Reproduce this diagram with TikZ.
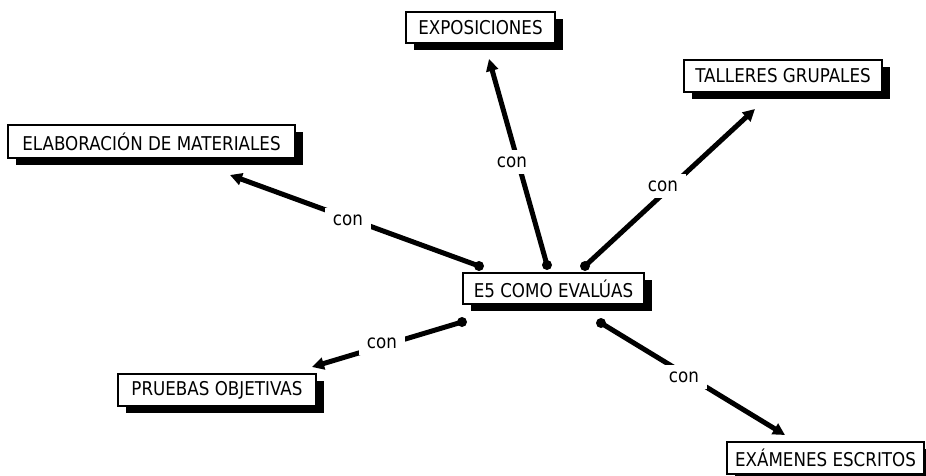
\documentclass[tikz,border=0pt]{standalone}
\usepackage{fontspec}
\setmainfont{DejaVu Sans}[FakeStretch=0.88]
\usetikzlibrary{arrows.meta,shadows}
\begin{document}
\begin{tikzpicture}[x=1pt,y=-1pt,
  concept/.style={draw=black, line width=1.3pt, fill=white, inner sep=0pt,
    font=\fontsize{19pt}{21pt}\selectfont,
    drop shadow={shadow xshift=8pt, shadow yshift=-7pt, fill=black, opacity=1}},
  conn/.style={line width=5pt, -{Triangle[length=12pt,width=12pt]}},
  lab/.style={fill=white, inner sep=0pt, minimum width=46pt, minimum height=24pt,
    font=\fontsize{19pt}{21pt}\selectfont},
  dot/.style={fill=black}]
\useasboundingbox (0,0) rectangle (926,475);
\fill[white] (0,0) rectangle (926,475);
% concepts
\node[concept, minimum width=181pt, minimum height=31pt] (center) at (553.5,288.5) {E5 COMO EVALÚAS};
\node[concept, minimum width=287pt, minimum height=33pt] (elab) at (151.5,141.5) {ELABORACIÓN DE MATERIALES};
\node[concept, minimum width=149pt, minimum height=31pt] (expo) at (480.5,27.5) {EXPOSICIONES};
\node[concept, minimum width=198pt, minimum height=32pt] (tall) at (783,76) {TALLERES GRUPALES};
\node[concept, minimum width=198pt, minimum height=32pt] (prue) at (217,390) {PRUEBAS OBJETIVAS};
\node[concept, minimum width=197pt, minimum height=32pt] (exam) at (825.5,458) {EXÁMENES ESCRITOS};
% connector end points
\coordinate (s1) at (479,266); \coordinate (t1) at (230,175);
\coordinate (s2) at (547,265); \coordinate (t2) at (489,59);
\coordinate (s3) at (585,266); \coordinate (t3) at (755,109);
\coordinate (s4) at (462,322); \coordinate (t4) at (312,367);
\coordinate (s5) at (601,323); \coordinate (t5) at (785,435);
% connectors
\draw[conn] (s1) -- (t1);
\draw[conn] (s2) -- (t2);
\draw[conn] (s3) -- (t3);
\draw[conn] (s4) -- (t4);
\draw[conn] (s5) -- (t5);
\foreach \s in {s1,s2,s3,s4,s5} \fill[dot] (\s) circle (5pt);
% labels
\node[lab] (l1) at (348,220) {con};
\node[lab] (l2) at (512,162) {con};
\node[lab] (l3) at (663,186) {con};
\node[lab] (l4) at (382,343) {con};
\node[lab] (l5) at (684,377) {con};
\end{tikzpicture}
\end{document}
